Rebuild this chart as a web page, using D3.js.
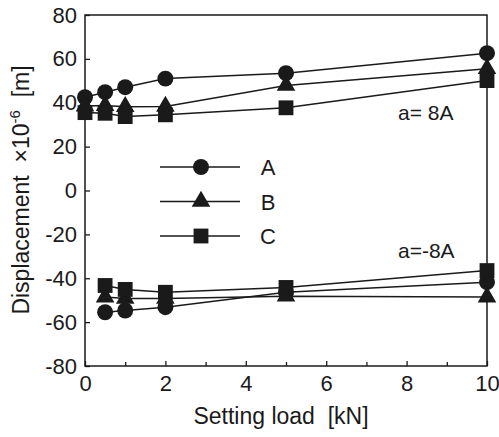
<!DOCTYPE html>
<html><head><meta charset="utf-8">
<script src="https://cdn.jsdelivr.net/npm/d3@7"></script>
<style>body{margin:0;background:#fff}svg{display:block}text{font-family:"Liberation Sans",Arial,sans-serif;fill:#1a1a1a}</style>
</head><body><svg id="c" width="499" height="437"></svg>
<script>
const loads = [0, 0.5, 1, 2, 5, 10];
const loadsNeg = [0.5, 1, 2, 5, 10];
const series = ["A", "B", "C"];
const posA = [42.5, 44.8, 47.1, 51, 53.5, 62.6];
const posB = [38.5, 38.7, 38.2, 38.3, 47.9, 55.5];
const posC = [35.5, 35.2, 33.7, 34.5, 37.7, 50.1];
const negA = [-55.5, -54.7, -53.2, -46.4, -41.8];
const negB = [-48.6, -49.2, -49.2, -48.2, -48.6];
const negC = [-43.3, -45.1, -46.4, -44.2, -36.5];
const xTicks = [0, 2, 4, 6, 8, 10];
const xMinor = [1, 3, 5, 7, 9];
const yTicks = [-80, -60, -40, -20, 0, 20, 40, 60, 80];

const svg = d3.select("#c");
const L = 85, R = 487, T = 15, B = 366;
const x = d3.scaleLinear().domain([0, 10]).range([L, R]);
const y = d3.scaleLinear().domain([-80, 80]).range([B, T]);
const ink = "#1a1a1a";
const fmt = d => String(d);

svg.append("rect").attr("x", L).attr("y", T).attr("width", R - L).attr("height", B - T)
  .attr("fill", "none").attr("stroke", ink).attr("stroke-width", 1.5);

const yAx = svg.append("g").attr("transform", `translate(${L},0)`)
  .call(d3.axisLeft(y).tickValues(yTicks).tickSize(-5).tickPadding(8).tickFormat(fmt));
yAx.select(".domain").remove();
yAx.selectAll("line").attr("stroke", ink).attr("stroke-width", 1.3);
yAx.selectAll("text").attr("font-size", 22).attr("fill", ink).style("font-family", "Liberation Sans, Arial, sans-serif");

const xAx = svg.append("g").attr("transform", `translate(0,${B})`)
  .call(d3.axisBottom(x).tickValues(xTicks).tickSize(-5).tickPadding(9).tickFormat(fmt));
xAx.select(".domain").remove();
xAx.selectAll("line").attr("stroke", ink).attr("stroke-width", 1.3);
xAx.selectAll("text").attr("font-size", 22).attr("fill", ink).style("font-family", "Liberation Sans, Arial, sans-serif");
const xm = svg.append("g").attr("transform", `translate(0,${B})`)
  .call(d3.axisBottom(x).tickValues(xMinor).tickSize(-4).tickFormat(""));
xm.select(".domain").remove();
xm.selectAll("line").attr("stroke", ink).attr("stroke-width", 1.3);

const shapes = {A: d3.symbolCircle, B: d3.symbolTriangle, C: d3.symbolSquare};
const sizes = {A: 200, B: 150, C: 220};
const line = d3.line().x(d => x(d[0])).y(d => y(d[1]));

function drawSet(xs, sets) {
  sets.forEach(([name, vals]) => {
    const pts = xs.map((v, i) => [v, vals[i]]);
    svg.append("path").attr("d", line(pts)).attr("fill", "none").attr("stroke", ink).attr("stroke-width", 1.5);
  });
  sets.forEach(([name, vals]) => {
    xs.forEach((v, i) => {
      svg.append("path").attr("d", d3.symbol().type(shapes[name]).size(sizes[name])())
        .attr("transform", `translate(${x(v)},${y(vals[i])})`).attr("fill", ink);
    });
  });
}
drawSet(loads, [["A", posA], ["B", posB], ["C", posC]]);
drawSet(loadsNeg, [["A", negA], ["B", negB], ["C", negC]]);

series.forEach((s, i) => {
  const ly = 167 + i * 34.5;
  svg.append("line").attr("x1", 160).attr("x2", 240).attr("y1", ly).attr("y2", ly).attr("stroke", ink).attr("stroke-width", 1.5);
  svg.append("path").attr("d", d3.symbol().type(shapes[s]).size(sizes[s])()).attr("transform", `translate(201,${ly})`).attr("fill", ink);
  svg.append("text").attr("x", 268).attr("y", ly + 8).attr("text-anchor", "middle").attr("font-size", 22).text(s);
});

svg.append("text").attr("x", 398).attr("y", 120).attr("font-size", 21).attr("xml:space", "preserve").text("a= 8A");
svg.append("text").attr("x", 398).attr("y", 258).attr("font-size", 21).text("a=-8A");

svg.append("text").attr("x", 281).attr("y", 424).attr("text-anchor", "middle").attr("font-size", 23).attr("xml:space", "preserve").text("Setting load  [kN]");
const yt = svg.append("text").attr("transform", "translate(29,190) rotate(-90)").attr("text-anchor", "middle").attr("font-size", 23).attr("xml:space", "preserve");
yt.append("tspan").text("Displacement  ×10");
yt.append("tspan").attr("dy", -9).attr("font-size", 15).text("-6");
yt.append("tspan").attr("dy", 9).text("  [m]");
</script></body></html>
